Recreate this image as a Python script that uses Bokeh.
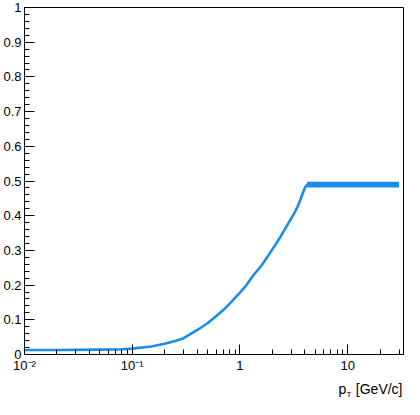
from bokeh.plotting import figure
from bokeh.models import FixedTicker, Range1d
from bokeh.layouts import column
from bokeh.core.properties import value
from bokeh.embed import file_html
from bokeh.resources import INLINE

# --- data ---
pt = [0.01, 0.02, 0.05, 0.08, 0.1, 0.15, 0.2, 0.25, 0.3, 0.4, 0.5, 0.6, 0.7,
      0.8, 1.0, 1.15, 1.3, 1.6, 2.0, 2.3, 2.6, 2.9, 3.2, 3.5, 3.8, 4.0, 4.2,
      5.0, 10.0, 20.0, 30.0]
eff = [0.013, 0.013, 0.014, 0.015, 0.017, 0.023, 0.031, 0.039, 0.047, 0.070,
       0.090, 0.110, 0.128, 0.146, 0.178, 0.200, 0.224, 0.258, 0.303, 0.332,
       0.360, 0.385, 0.407, 0.432, 0.462, 0.480, 0.489, 0.490, 0.490, 0.490,
       0.490]
band_pt = [4.2, 5.0, 10.0, 20.0, 30.0]
band_lo = [0.481, 0.481, 0.481, 0.481, 0.481]
band_hi = [0.498, 0.498, 0.498, 0.498, 0.498]

x_major = [0.01, 0.1, 1, 10]
x_minor = [0.02, 0.03, 0.04, 0.05, 0.06, 0.07, 0.08, 0.09,
           0.2, 0.3, 0.4, 0.5, 0.6, 0.7, 0.8, 0.9,
           2, 3, 4, 5, 6, 7, 8, 9, 20, 30]
x_labels = {0.01: "10\u207b\u00b2", 0.1: "10\u207b\u00b9", 1: "1", 10: "10"}
y_major = [0, 0.1, 0.2, 0.3, 0.4, 0.5, 0.6, 0.7, 0.8, 0.9, 1]
y_labels = {0: "0", 0.1: "0.1", 0.2: "0.2", 0.3: "0.3", 0.4: "0.4", 0.5: "0.5",
            0.6: "0.6", 0.7: "0.7", 0.8: "0.8", 0.9: "0.9", 1: "1"}
y_minor = [round(i * 0.02, 2) for i in range(51)]
x_title_main = "[GeV/c]"
x_title_p = "p"
x_title_sub = "T"

FONT = "Liberation Sans"
BLUE = "#1a8cec"
X_END = 33
W = 404
LEFT = 23
TITLE_H = 24

xr = Range1d(0.01, X_END)

p = figure(width=W, height=399 - TITLE_H, x_axis_type="log",
           x_range=xr, y_range=Range1d(0, 1),
           output_backend="svg", toolbar_location=None,
           min_border_top=7, min_border_right=1, min_border_bottom=18,
           min_border_left=LEFT)
p.grid.visible = False
p.outline_line_color = "black"
p.outline_line_width = 1
p.background_fill_color = "white"
p.border_fill_color = "white"

xa = p.xaxis[0]
xa.ticker = FixedTicker(ticks=x_major, minor_ticks=x_minor)
xa.major_label_overrides = x_labels
xa.major_tick_in = 10
xa.major_tick_out = 0
xa.minor_tick_in = 5
xa.minor_tick_out = 0
xa.major_label_standoff = 3
xa.major_label_text_font = FONT
xa.major_label_text_font_size = "13px"
xa.major_label_text_color = "black"
xa.axis_line_color = "black"
xa.major_tick_line_color = "black"
xa.minor_tick_line_color = "black"

ya = p.yaxis[0]
ya.ticker = FixedTicker(ticks=y_major, minor_ticks=y_minor)
ya.major_label_overrides = y_labels
ya.major_tick_in = 10
ya.major_tick_out = 0
ya.minor_tick_in = 5
ya.minor_tick_out = 0
ya.major_label_standoff = 3
ya.major_label_text_font = FONT
ya.major_label_text_font_size = "13px"
ya.major_label_text_color = "black"
ya.axis_line_color = "black"
ya.major_tick_line_color = "black"
ya.minor_tick_line_color = "black"

p.varea(x=band_pt, y1=band_lo, y2=band_hi, fill_color=BLUE)
p.line(pt, eff, line_color=BLUE, line_width=2.6, line_join="round")

# x-axis title strip (shares the x range so it lines up with the frame)
t = figure(width=W, height=TITLE_H, x_axis_type="log", x_range=xr,
           y_range=Range1d(0, TITLE_H), output_backend="svg",
           toolbar_location=None, min_border_top=0, min_border_bottom=0,
           min_border_left=LEFT, min_border_right=1)
t.axis.visible = False
t.grid.visible = False
t.outline_line_color = None
t.background_fill_color = "white"
t.border_fill_color = "white"
t.text(x=[X_END], y=[10.5], text=[x_title_main], text_align="right",
       text_baseline="alphabetic", text_font=value(FONT),
       text_font_size="14px", text_color="black", x_offset=-1)
t.text(x=[X_END], y=[5], text=[x_title_sub], text_align="left",
       text_baseline="alphabetic", text_font=value(FONT),
       text_font_size="8px", text_color="black", x_offset=-57)
t.text(x=[X_END], y=[10.5], text=[x_title_p], text_align="left",
       text_baseline="alphabetic", text_font=value(FONT),
       text_font_size="14px", text_color="black", x_offset=-65)

layout = column(p, t, spacing=0)
open("out.html", "w").write(file_html(layout, INLINE))
